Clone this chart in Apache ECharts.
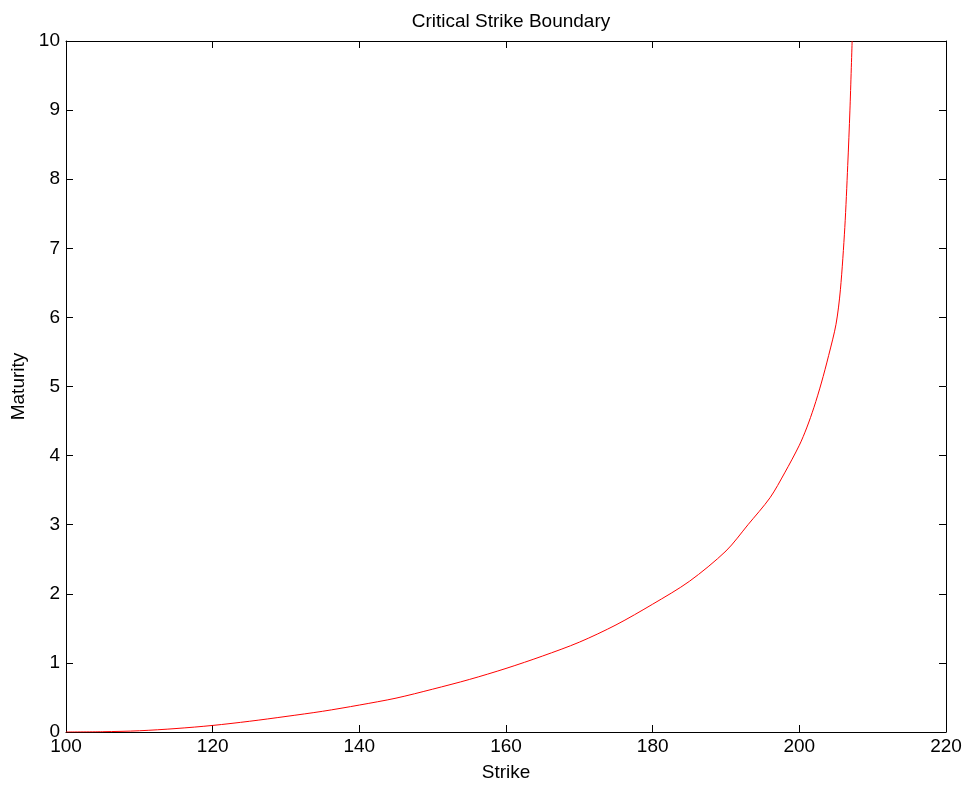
<!DOCTYPE html>
<html>
<head>
<meta charset="utf-8">
<title>Critical Strike Boundary</title>
<script src="https://cdn.jsdelivr.net/npm/echarts@6/dist/echarts.min.js"></script>
<style>
  html, body { margin: 0; padding: 0; background: #fff; }
  #main { width: 966px; height: 787px; }
</style>
</head>
<body>
<div id="main"></div>
<script>
// 数据：行权价 与 到期时间
var strike = [100, 105, 110, 115, 120, 125, 130, 135, 140, 145, 150, 155, 160, 165, 170, 175, 180, 185, 190, 193, 196, 198, 200, 201, 202, 203, 204, 205, 205.6, 206.2, 206.6, 206.9, 207.2];
var maturity = [0, 0.004, 0.018, 0.05, 0.095, 0.155, 0.225, 0.3, 0.39, 0.49, 0.62, 0.76, 0.92, 1.1, 1.3, 1.55, 1.85, 2.18, 2.62, 3.0, 3.39, 3.75, 4.15, 4.4, 4.7, 5.05, 5.45, 5.9, 6.4, 7.3, 8.2, 9.0, 10];
var xTicks = [100, 120, 140, 160, 180, 200, 220];
var yTicks = [0, 1, 2, 3, 4, 5, 6, 7, 8, 9, 10];

var points = [];
for (var i = 0; i < strike.length; i++) {
    points.push([strike[i], maturity[i]]);
}

var font = 'Liberation Sans, Arial, sans-serif';
var myChart = echarts.init(document.getElementById('main'));

// 坐标轴样式（仿 MATLAB：四周边框，刻度朝内）
function xAx(pos, show) {
    return {
        type: 'value', position: pos,
        min: xTicks[0], max: xTicks[xTicks.length - 1], interval: 20,
        name: show ? 'Strike' : '', nameLocation: 'middle', nameGap: 31,
        nameTextStyle: { color: '#000', fontSize: 19, fontFamily: font },
        axisLine: { show: true, onZero: false, lineStyle: { color: '#000', width: 1 } },
        axisTick: { show: true, inside: true, length: 7, lineStyle: { color: '#000' } },
        axisLabel: { show: show, color: '#000', fontSize: 19, fontFamily: font, margin: 5 },
        splitLine: { show: false }
    };
}
function yAx(pos, show) {
    return {
        type: 'value', position: pos,
        min: yTicks[0], max: yTicks[yTicks.length - 1], interval: 1,
        name: show ? 'Maturity' : '', nameLocation: 'middle', nameGap: 34,
        nameTextStyle: { color: '#000', fontSize: 19, fontFamily: font },
        axisLine: { show: true, onZero: false, lineStyle: { color: '#000', width: 1 } },
        axisTick: { show: true, inside: true, length: 7, lineStyle: { color: '#000' } },
        axisLabel: { show: show, color: '#000', fontSize: 19, fontFamily: font, margin: 6 },
        splitLine: { show: false }
    };
}

var option = {
    backgroundColor: '#fff',
    animation: false,
    title: {
        text: 'Critical Strike Boundary',
        left: 506, top: 7, textAlign: 'center',
        textStyle: { color: '#000', fontSize: 19, fontWeight: 'normal', fontFamily: font }
    },
    grid: { left: 66, right: 20, top: 41, bottom: 52, containLabel: false },
    xAxis: [xAx('bottom', true), xAx('top', false)],
    yAxis: [yAx('left', true), yAx('right', false)],
    series: [{
        type: 'line',
        data: points,
        showSymbol: false,
        smooth: 0.3,
        lineStyle: { color: '#ff0000', width: 1 }
    }]
};
myChart.setOption(option);
</script>
</body>
</html>
